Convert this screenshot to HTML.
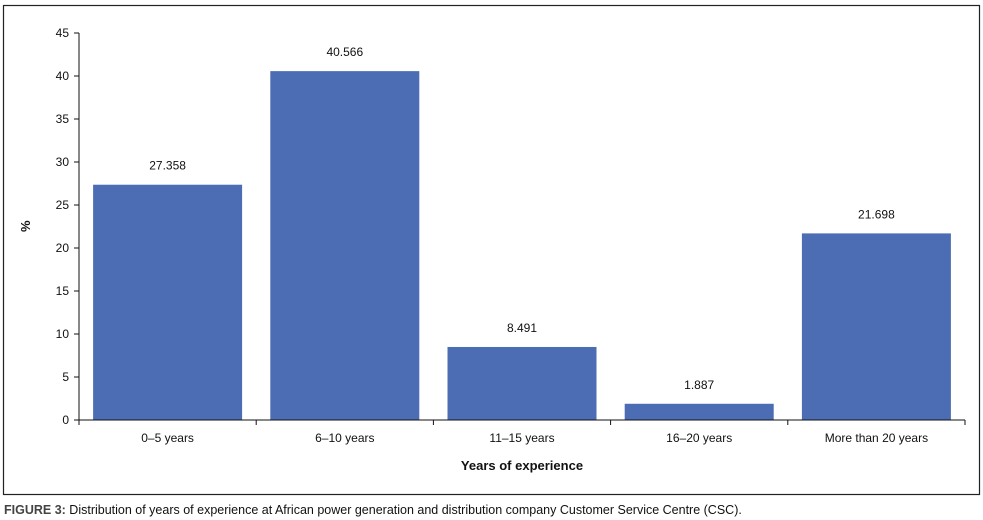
<!DOCTYPE html>
<html><head><meta charset="utf-8"><style>
body{margin:0;background:#fff;width:983px;height:520px;overflow:hidden;font-family:"Liberation Sans",sans-serif}
svg{position:absolute;left:0;top:0}
</style></head><body>
<svg id="c" width="983" height="520">
<rect x="3.5" y="5.5" width="976" height="489" fill="none" stroke="#222" stroke-width="1.2"/>
<text x="20" y="230" transform="rotate(-90 26 226)" font-size="13" font-weight="bold" fill="#111">%</text>
<text x="522" y="470" text-anchor="middle" font-size="13" font-weight="bold" fill="#111">Years of experience</text>
<text x="4" y="514" font-size="12.5" fill="#111"><tspan font-weight="bold" fill="#444">FIGURE 3:</tspan> Distribution of years of experience at African power generation and distribution company Customer Service Centre (CSC).</text>
</svg>
<script>
const categories=["0–5 years","6–10 years","11–15 years","16–20 years","More than 20 years"];
const values=[27.358,40.566,8.491,1.887,21.698];
const labels=["27.358","40.566","8.491","1.887","21.698"];
const yTicks=[0,5,10,15,20,25,30,35,40,45];
const svg=document.getElementById('c');const NS='http://www.w3.org/2000/svg';
const x0=79,x1=965,yb=420,yt=33,ymax=45;
const y=v=>yb-(v/ymax)*(yb-yt);
const cw=(x1-x0)/categories.length;
function mk(t,a,txt){const e=document.createElementNS(NS,t);for(const k in a)e.setAttribute(k,a[k]);if(txt!=null)e.textContent=txt;svg.appendChild(e);return e;}
values.forEach((v,i)=>{
const cx=x0+cw*(i+0.5);
const b=mk('rect',{x:cx-74.5,y:y(v),width:149,height:yb-y(v),fill:'#4c6db3'});


const l=mk('text',{x:cx,y:y(v)-15,'text-anchor':'middle','font-size':12,fill:'#111'},labels[i]);


const c=mk('text',{x:cx,y:yb+22,'text-anchor':'middle','font-size':12,fill:'#111'},categories[i]);


});
for(let i=0;i<=categories.length;i++){const xx=x0+cw*i;const t=mk('line',{x1:xx,x2:xx,y1:yb,y2:yb+5,stroke:'#111'});

}
yTicks.forEach(v=>{const t=mk('line',{x1:x0-5,x2:x0,y1:y(v),y2:y(v),stroke:'#111'});


const l=mk('text',{x:x0-10,y:y(v)+4,'text-anchor':'end','font-size':12,fill:'#111'},v);

});
const ya=mk('line',{x1:x0,x2:x0,y1:yt,y2:yb,stroke:'#111'});


const xa=mk('line',{x1:x0,x2:x1,y1:yb,y2:yb,stroke:'#111'});


</script>
</body></html>
